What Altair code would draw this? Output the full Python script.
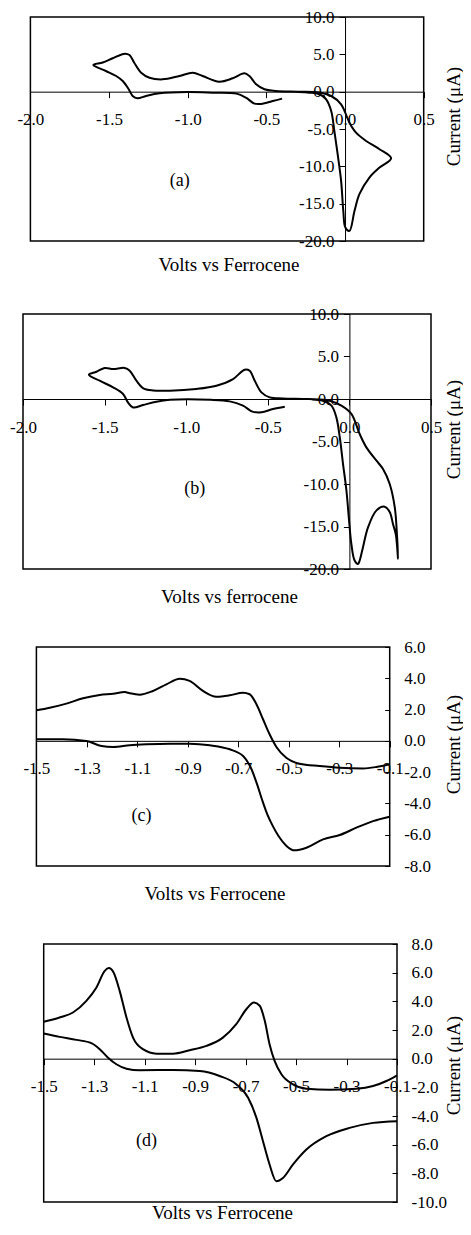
import altair as alt
import pandas as pd

FONT = "Liberation Serif"

# ---------------- data ----------------
# Panel (a): one continuous CV path, in scan order
A_VOLTS = [-0.40, -0.46, -0.52, -0.575, -0.63, -0.69, -0.84, -1.00, -1.18, -1.265,
           -1.32, -1.35, -1.375, -1.413, -1.455, -1.52, -1.60,
           -1.54, -1.477, -1.40, -1.37, -1.34, -1.296, -1.243, -1.16, -1.053,
           -0.968, -0.905, -0.80, -0.714, -0.64, -0.608, -0.565, -0.512, -0.44,
           -0.30, -0.163,
           -0.088, -0.025, 0.028, 0.07, 0.134, 0.219, 0.293,
           0.219, 0.155, 0.092, 0.060, 0.028, 0.002, -0.011, -0.025, -0.047,
           -0.068, -0.088, -0.12, -0.163, -0.227, -0.30]
A_CURRENT = [-0.93, -1.25, -1.60, -1.60, -0.80, -0.26, -0.13, -0.05, -0.22, -0.58,
             -0.89, -0.58, 0.32, 1.43, 2.10, 2.77, 3.57,
             3.90, 4.47, 5.09, 4.90, 3.88, 2.54, 1.87, 1.65, 2.10,
             2.54, 2.10, 1.34, 1.79, 2.46, 2.10, 0.99, 0.32, 0.10,
             0.0, -0.10,
             -0.58, -1.69, -4.15, -5.49, -6.60, -7.71, -8.92,
             -10.17, -11.50, -13.70, -15.97, -18.65, -18.20, -15.97, -11.95, -8.38,
             -5.26, -2.58, -1.02, -0.35, -0.13, -0.05]

# Panel (b): one continuous CV path, in scan order
B_VOLTS = [-0.396, -0.468, -0.539, -0.594, -0.652, -0.733, -0.85, -1.10, -1.183,
           -1.265, -1.326, -1.357, -1.387, -1.448, -1.53, -1.596,
           -1.55, -1.499, -1.448, -1.377, -1.346, -1.305, -1.265, -1.203, -1.101,
           -0.938, -0.815, -0.713, -0.642, -0.611, -0.58, -0.539, -0.488, -0.407,
           -0.25, -0.121,
           -0.049, 0.012, 0.063, 0.104, 0.166, 0.206, 0.247, 0.278, 0.290, 0.298,
           0.285, 0.267, 0.247, 0.216, 0.166, 0.114, 0.083, 0.063, 0.053, 0.032,
           0.012, -0.002, -0.018, -0.039, -0.059, -0.08, -0.11, -0.162, -0.23]
B_CURRENT = [-0.91, -1.18, -1.57, -1.49, -0.79, -0.28, -0.10, -0.10, -0.32,
             -0.71, -0.99, -0.40, 0.59, 1.37, 2.15, 2.86,
             3.21, 3.65, 3.53, 3.65, 3.33, 2.15, 1.29, 1.01, 0.98,
             1.18, 1.56, 2.35, 3.45, 3.33, 2.15, 0.78, 0.19, 0.07,
             0.0, -0.20,
             -0.79, -1.76, -4.12, -5.69, -7.26, -8.24, -10.0, -12.75, -15.5, -18.8,
             -16.0, -14.7, -13.3, -12.67, -13.1, -15.1, -17.46, -19.0, -19.4, -19.0,
             -17.06, -14.3, -10.8, -7.65, -4.5, -2.16, -0.79, -0.20, -0.05]

# Panel (c): anodic (upper) and cathodic (lower) branches
C_UP_VOLTS = [-1.5, -1.447, -1.381, -1.315, -1.249, -1.196, -1.15, -1.13, -1.091,
              -1.038, -0.985, -0.932, -0.893, -0.84, -0.787, -0.734, -0.681, -0.655,
              -0.628, -0.602, -0.576, -0.549, -0.51, -0.457, -0.378, -0.298, -0.206,
              -0.153, -0.1]
C_UP_CURRENT = [1.95, 2.12, 2.38, 2.72, 2.93, 3.01, 3.12, 3.04, 2.95,
                3.19, 3.61, 3.97, 3.83, 3.19, 2.82, 2.91, 3.08, 2.98,
                2.34, 1.38, 0.42, -0.39, -1.08, -1.46, -1.61, -1.72, -1.76,
                -1.67, -1.5]
C_DN_VOLTS = [-1.5, -1.395, -1.302, -1.242, -1.196, -1.13, -1.064, -0.972, -0.893,
              -0.813, -0.734, -0.681, -0.648, -0.625, -0.605, -0.585, -0.563, -0.54,
              -0.51, -0.477, -0.43, -0.364, -0.298, -0.232, -0.166, -0.1]
C_DN_CURRENT = [0.10, 0.10, -0.01, -0.33, -0.39, -0.28, -0.22, -0.18, -0.18,
                -0.28, -0.54, -0.97, -1.8, -2.8, -3.8, -4.7, -5.45, -6.1,
                -6.7, -7.0, -6.83, -6.3, -6.02, -5.55, -5.13, -4.85]

# Panel (d): anodic (upper) and cathodic (lower) branches
D_UP_VOLTS = [-1.5, -1.437, -1.384, -1.331, -1.291, -1.258, -1.242, -1.223, -1.199,
              -1.172, -1.146, -1.107, -1.053, -0.988, -0.922, -0.855, -0.79, -0.737,
              -0.697, -0.667, -0.644, -0.624, -0.605, -0.585, -0.558, -0.512, -0.459,
              -0.367, -0.261, -0.195, -0.142, -0.1]
D_UP_CURRENT = [2.57, 2.87, 3.22, 4.03, 4.97, 6.13, 6.32, 6.01, 4.73,
                2.87, 1.47, 0.66, 0.35, 0.35, 0.59, 0.89, 1.47, 2.41,
                3.45, 3.92, 3.69, 2.64, 1.01, -0.16, -1.09, -1.79, -2.10,
                -2.17, -2.10, -1.91, -1.56, -1.16]
D_DN_VOLTS = [-1.5, -1.437, -1.37, -1.311, -1.278, -1.245, -1.212, -1.172, -1.12,
              -0.988, -0.882, -0.803, -0.737, -0.69, -0.657, -0.631, -0.605, -0.578,
              -0.552, -0.512, -0.459, -0.38, -0.288, -0.195, -0.1]
D_DN_CURRENT = [1.75, 1.52, 1.31, 1.08, 0.66, 0.07, -0.39, -0.70, -0.81,
                -0.79, -0.86, -1.21, -1.79, -2.73, -4.13, -5.76, -7.38, -8.55,
                -8.32, -7.38, -6.34, -5.41, -4.83, -4.48, -4.36]

# axis domains and tick values
AB_XDOMAIN = [-2.0, 0.5]
AB_YDOMAIN = [-20.0, 10.0]
AB_XTICKS = [-2.0, -1.5, -1.0, -0.5, 0.0, 0.5]
AB_YTICKS = [10.0, 5.0, 0.0, -5.0, -10.0, -15.0, -20.0]
CD_XDOMAIN = [-1.5, -0.1]
CD_XTICKS = [-1.5, -1.3, -1.1, -0.9, -0.7, -0.5, -0.3, -0.1]
C_YDOMAIN = [-8.0, 6.0]
C_YTICKS = [6.0, 4.0, 2.0, 0.0, -2.0, -4.0, -6.0, -8.0]
D_YDOMAIN = [-10.0, 8.0]
D_YTICKS = [8.0, 6.0, 4.0, 2.0, 0.0, -2.0, -4.0, -6.0, -8.0, -10.0]

TAGS = ["(a)", "(b)", "(c)", "(d)"]
TAG_POS = [(-1.05, -12.0), (-0.948, -10.6), (-1.084, -4.8), (-1.093, -5.76)]
X_TITLES = ["Volts vs Ferrocene", "Volts vs ferrocene", "Volts vs Ferrocene", "Volts vs Ferrocene"]
Y_TITLE = "Current (\u03bcA)"

# ---------------- layout geometry (pixels) ----------------
W = 408          # container width shared by the panels
MINUS = "replace(format(datum.value, '.1f'), '\u2212', '-')"


def path_df(volts, current, seg):
    return pd.DataFrame({"volts": volts, "current": current,
                         "k": list(range(len(volts))), "seg": seg})


def make_panel(df, xdom, ydom, xticks, yticks, xr, plot_h, cont_h, yside,
               xtitle, xt_dx, xt_off, yt_xy, tag, tag_pos, interp):
    xscale = alt.Scale(domain=xdom, range=xr, nice=False, zero=False)
    yscale = alt.Scale(domain=ydom, range=[plot_h, 0], nice=False, zero=False)
    y0 = plot_h * ydom[1] / (ydom[1] - ydom[0])
    x0 = xr[0] + (0 - xdom[0]) / (xdom[1] - xdom[0]) * (xr[1] - xr[0])

    xaxis = alt.Axis(orient="bottom", offset=y0 - cont_h, values=xticks,
                     labelExpr=MINUS, tickSize=6, labelPadding=14, title=None)
    if yside == "left":
        yaxis_main = alt.Axis(orient="left", offset=-x0, values=yticks,
                              labelExpr=MINUS, tickSize=6, labelPadding=5,
                              title=None)
        yaxis_box = alt.Axis(orient="right", labels=False, ticks=False,
                             domain=False, title=Y_TITLE, titleAngle=270,
                             titleX=yt_xy[0], titleY=yt_xy[1],
                             titleAlign="center", titleBaseline="middle")
    else:
        off = -(W - xr[1])
        yaxis_main = alt.Axis(orient="right", offset=off, values=yticks,
                              labelExpr=MINUS, ticks=False, domain=False,
                              labelPadding=14, labelAlign="left",
                              title=Y_TITLE, titleAngle=270,
                              titleX=yt_xy[0], titleY=yt_xy[1],
                              titleAlign="center", titleBaseline="middle")
        yaxis_box = alt.Axis(orient="right", offset=off - 5, values=yticks,
                             labels=False, ticks=True, tickSize=5,
                             domain=False, title=None)

    line = alt.Chart(df).mark_line(color="black", strokeWidth=2,
                                   interpolate=interp).encode(
        x=alt.X("volts:Q", scale=xscale, axis=xaxis),
        y=alt.Y("current:Q", scale=yscale, axis=yaxis_main),
        detail="seg:N",
        order="k:Q",
    )
    box_df = pd.DataFrame({"x1": [xdom[0]], "x2": [xdom[1]],
                           "y1": [ydom[0]], "y2": [ydom[1]]})
    box = alt.Chart(box_df).mark_rect(fillOpacity=0, stroke="black",
                                      strokeWidth=1.5).encode(
        x=alt.X("x1:Q", scale=xscale, axis=None),
        x2="x2",
        y=alt.Y("y1:Q", scale=yscale, axis=yaxis_box),
        y2="y2",
    )
    tag_df = pd.DataFrame({"volts": [tag_pos[0]], "current": [tag_pos[1]], "t": [tag]})
    text = alt.Chart(tag_df).mark_text(font=FONT, fontSize=18, color="black").encode(
        x=alt.X("volts:Q", scale=xscale, axis=None),
        y=alt.Y("current:Q", scale=yscale, axis=None),
        text="t:N",
    )
    title = alt.TitleParams(xtitle, orient="bottom", anchor="middle", frame="group",
                            baseline="top", dx=xt_dx, offset=xt_off, font=FONT,
                            fontSize=19, fontWeight="normal", color="black")
    return alt.layer(line, box, text, title=title).resolve_axis(
        x="independent", y="independent").properties(width=W, height=cont_h)


pa = make_panel(path_df(A_VOLTS, A_CURRENT, ["a"] * len(A_VOLTS)),
                AB_XDOMAIN, AB_YDOMAIN, AB_XTICKS, AB_YTICKS,
                [7.4, 400.7], 224, 227, "left", X_TITLES[0],
                2.0, 7.0, (22.0, 99.0), TAGS[0], TAG_POS[0], "catmull-rom")
pb = make_panel(path_df(B_VOLTS, B_CURRENT, ["b"] * len(B_VOLTS)),
                AB_XDOMAIN, AB_YDOMAIN, AB_XTICKS, AB_YTICKS,
                [0.0, 408.0], 255, 263, "left", X_TITLES[1],
                2.5, 11.0, (22.0, 115.0), TAGS[1], TAG_POS[1], "catmull-rom")
c_df = pd.concat([path_df(C_UP_VOLTS, C_UP_CURRENT, ["up"] * len(C_UP_VOLTS)),
                  path_df(C_DN_VOLTS, C_DN_CURRENT, ["dn"] * len(C_DN_VOLTS))])
pc = make_panel(c_df, CD_XDOMAIN, C_YDOMAIN, CD_XTICKS, C_YTICKS,
                [13.4, 366.7], 219, 227, "right", X_TITLES[2],
                -12.0, 11.0, (63.3, 97.0), TAGS[2], TAG_POS[2], "monotone")
d_df = pd.concat([path_df(D_UP_VOLTS, D_UP_CURRENT, ["up"] * len(D_UP_VOLTS)),
                  path_df(D_DN_VOLTS, D_DN_CURRENT, ["dn"] * len(D_DN_VOLTS))])
pd_ = make_panel(d_df, CD_XDOMAIN, D_YDOMAIN, CD_XTICKS, D_YTICKS,
                 [20.7, 374.0], 258, 258, "right", X_TITLES[3],
                 -4.5, -5.9, (56.0, 121.0), TAGS[3], TAG_POS[3], "monotone")

chart = alt.vconcat(pa, pb, pc, pd_, spacing=70, bounds="flush").properties(
    padding={"left": 1, "top": 0, "right": 0, "bottom": 0}
).configure_view(strokeWidth=0).configure_axis(
    labelFont=FONT, labelFontSize=17, labelColor="black",
    titleFont=FONT, titleFontSize=19, titleFontWeight="normal", titleColor="black",
    domainColor="black", domainWidth=1, tickColor="black", tickWidth=1,
    grid=False, labelFlush=False, labelOverlap=False, labelBound=False,
)

chart.save("out.html", embed_options={"renderer": "svg", "actions": False})
